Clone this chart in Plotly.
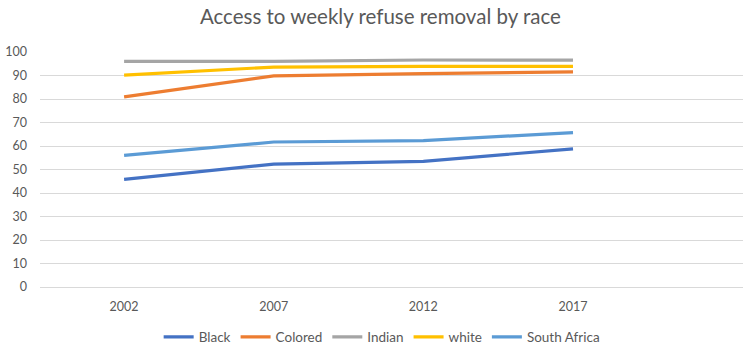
import plotly.graph_objects as go

years = [2002, 2007, 2012, 2017]
black = [45.8, 52.3, 53.5, 58.8]
colored = [80.9, 89.8, 90.8, 91.5]
indian = [96.0, 96.0, 96.6, 96.5]
white = [90.2, 93.6, 93.9, 93.9]
south_africa = [56.0, 61.7, 62.3, 65.7]

series = [
    ("Black", black, "#4472C4"),
    ("Colored", colored, "#ED7D31"),
    ("Indian", indian, "#A5A5A5"),
    ("white", white, "#FFC000"),
    ("South Africa", south_africa, "#5B9BD5"),
]

text_color = "#595959"
font_family = "Lato, 'Open Sans', sans-serif"

fig = go.Figure()
for name, vals, color in series:
    fig.add_trace(go.Scatter(
        x=years, y=vals, name=name, mode="lines",
        line=dict(color=color, width=3.2),
    ))

fig.update_layout(
    width=743, height=346,
    margin=dict(l=40, r=0, t=52, b=59, autoexpand=False),
    paper_bgcolor="white", plot_bgcolor="white",
    font=dict(family=font_family, color=text_color, size=12),
    title=dict(
        text="Access to weekly refuse removal by race",
        x=0.512, xanchor="center", y=0.952, yanchor="middle",
        font=dict(size=20.5, color=text_color, family=font_family),
    ),
    showlegend=True,
    legend=dict(
        orientation="h", x=0.486, xanchor="center", y=-0.213, yanchor="middle",
        font=dict(size=13.5, color=text_color), itemwidth=30,
        traceorder="normal",
    ),
    xaxis=dict(
        range=[1999.19, 2022.68],
        tickvals=years, ticktext=[str(y) for y in years],
        showgrid=False, zeroline=False, showline=False,
        ticks="", ticklabelstandoff=10,
        tickfont=dict(size=12.5, color=text_color),
    ),
    yaxis=dict(
        range=[0, 100], dtick=10,
        showgrid=True, gridcolor="#D9D9D9", gridwidth=1,
        zeroline=True, zerolinecolor="#D9D9D9", zerolinewidth=1,
        showline=False, ticks="", ticklabelstandoff=12,
        tickfont=dict(size=12.5, color=text_color),
    ),
)

fig.write_html("out.html")
